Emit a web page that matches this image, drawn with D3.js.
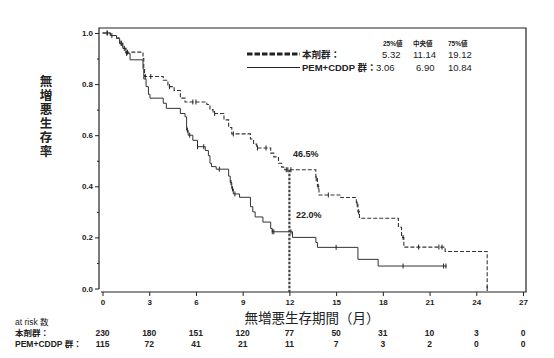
<!DOCTYPE html>
<html><head><meta charset="utf-8">
<script src="https://cdn.jsdelivr.net/npm/d3@7"></script>
<style>
body{margin:0;background:#fff;}
text{font-family:"Liberation Sans","Noto Sans CJK JP",sans-serif;fill:#222;}
</style></head><body>
<script>
// ---- data ----
const xTicks = [0,3,6,9,12,15,18,21,24,27];
const yTicks = [0,0.2,0.4,0.6,0.8,1.0];
const drugTimes = [0,0.5,0.9,1.1,1.3,1.5,2.6,2.65,2.7,3.9,4.2,4.6,5.0,5.3,6.7,6.9,7.1,7.8,8.1,8.3,9.5,9.7,9.9,10.8,11.0,11.3,11.5,11.7,13.7,13.8,13.9,15.3,16.3,16.4,16.5,19.0,19.2,19.35,22.0,24.7];
const drugSurv  = [1.0,0.99,0.98,0.96,0.94,0.925,0.90,0.86,0.83,0.815,0.79,0.775,0.745,0.73,0.72,0.70,0.685,0.66,0.63,0.605,0.585,0.565,0.55,0.53,0.515,0.49,0.475,0.465,0.43,0.40,0.366,0.356,0.33,0.30,0.275,0.24,0.20,0.162,0.145,0.0];
const drugCens  = [0.3,0.6,1.2,1.4,1.6,2.75,3.1,4.3,5.8,6.0,7.2,8.4,9.95,10.5,11.8,11.9,12.1,13.72,13.85,14.5,16.35,16.45,19.3,20.3,21.6,21.8,24.7];
const pemTimes = [0,0.5,0.9,1.1,1.3,1.5,1.77,2.6,2.65,2.8,2.95,3.05,3.9,4.1,5.0,5.3,5.4,5.5,5.8,6.1,6.6,6.8,6.9,7.0,7.3,8.1,8.2,8.3,8.4,8.8,9.5,9.65,9.8,10.3,10.8,10.9,12.2,13.7,13.8,16.4,17.7,22.1];
const pemSurv  = [1.0,0.99,0.98,0.96,0.94,0.92,0.895,0.86,0.82,0.79,0.76,0.745,0.725,0.705,0.685,0.672,0.62,0.60,0.58,0.555,0.54,0.52,0.49,0.477,0.467,0.44,0.415,0.39,0.37,0.357,0.32,0.30,0.28,0.26,0.235,0.222,0.20,0.18,0.161,0.114,0.088,0.088];
const pemCens  = [0.3,1.2,1.55,5.45,5.6,6.1,6.5,7.5,8.25,8.35,8.5,10.9,11.0,12.1,15.0,19.3,21.9,22.05];
const groupNames = ["本剤群：","PEM+CDDP 群："];
const quantHeaders = ["25%値","中央値","75%値"];
const quantDrug = ["5.32","11.14","19.12"];
const quantPem  = ["3.06","6.90","10.84"];
const riskDrug = [230,180,151,120,77,50,31,10,3,0];
const riskPem  = [115,72,41,21,11,7,3,2,0,0];
const landmark = {t:12, drug:"46.5%", pem:"22.0%"};

// ---- layout ----
const W=554,H=358;
const svg=d3.select("body").append("svg").attr("width",W).attr("height",H);
const x=d3.scaleLinear().domain([0,27]).range([102.5,523]);
const y=d3.scaleLinear().domain([0,1]).range([288.5,33]);
const col="#222";

// frame
svg.append("path").attr("d","M99,289 V28 H526 V292 H101").attr("fill","none").attr("stroke",col).attr("stroke-width",1.2);

// y axis
const ya=svg.append("g").attr("transform","translate(99,0)")
  .call(d3.axisLeft(y).tickValues(yTicks).tickFormat(d3.format(".1f")).tickSize(4).tickPadding(2));
ya.select(".domain").remove();
ya.selectAll("text").style("font-size","8px").style("font-weight","bold").attr("fill","#222");
ya.selectAll("line").attr("stroke",col);
svg.append("g").attr("transform","translate(99,0)")
  .call(d3.axisLeft(y).tickValues([0.1,0.3,0.5,0.7,0.9]).tickFormat("").tickSize(2))
  .call(g=>g.select(".domain").remove()).selectAll("line").attr("stroke",col);

// x axis
const xa=svg.append("g").attr("transform","translate(0,292)")
  .call(d3.axisBottom(x).tickValues(xTicks).tickSize(4).tickPadding(3));
xa.select(".domain").remove();
xa.selectAll("text").style("font-size","8px").style("font-weight","bold").attr("fill","#222");
xa.selectAll("line").attr("stroke",col);

// y label (vertical stacked)
const ylab="無増悪生存率";
ylab.split("").forEach((c,i)=>{
  svg.append("text").attr("x",46).attr("y",82+i*14).attr("text-anchor","middle")
    .attr("dominant-baseline","central").style("font-size","12.5px").style("font-weight","bold").text(c);
});
svg.append("text").attr("x",312).attr("y",318).attr("text-anchor","middle").attr("dominant-baseline","central")
  .style("font-size","13.5px").text("無増悪生存期間（月）");

// step lines
function stepPath(ts,ss){
  const pts=ts.map((t,i)=>[x(t),y(ss[i])]);
  return d3.line().curve(d3.curveStepAfter)(pts);
}
function survAt(ts,ss,t){let v=ss[0];for(let i=0;i<ts.length;i++){if(ts[i]<=t)v=ss[i];}return v;}

// landmark vertical line
svg.append("line").attr("x1",x(landmark.t)).attr("x2",x(landmark.t))
  .attr("y1",y(survAt(drugTimes,drugSurv,landmark.t))).attr("y2",292)
  .attr("stroke","#444").attr("stroke-width",2.2).attr("stroke-dasharray","2.5,1.5");

svg.append("path").attr("d",stepPath(pemTimes,pemSurv)).attr("fill","none").attr("stroke","#333").attr("stroke-width",1);
svg.append("path").attr("d",stepPath(drugTimes,drugSurv)).attr("fill","none").attr("stroke","#333").attr("stroke-width",1.1).attr("stroke-dasharray","4,2");

// censor marks
function cens(ts,ss,cs){
  svg.append("g").selectAll("line").data(cs).join("line")
    .attr("x1",d=>x(d)).attr("x2",d=>x(d))
    .attr("y1",d=>y(survAt(ts,ss,d))-2.5).attr("y2",d=>y(survAt(ts,ss,d))+2.5)
    .attr("stroke","#222").attr("stroke-width",1);
}
cens(drugTimes,drugSurv,drugCens);
cens(pemTimes,pemSurv,pemCens);

// landmark labels
svg.append("text").attr("x",293).attr("y",154).attr("dominant-baseline","central").style("font-size","9px").style("font-weight","bold").text(landmark.drug);
svg.append("text").attr("x",296).attr("y",215).attr("dominant-baseline","central").style("font-size","9px").style("font-weight","bold").text(landmark.pem);

// legend
svg.append("line").attr("x1",247).attr("x2",300).attr("y1",54).attr("y2",54).attr("stroke","#222").attr("stroke-width",3).attr("stroke-dasharray","5.5,2");
svg.append("line").attr("x1",247).attr("x2",300).attr("y1",67.5).attr("y2",67.5).attr("stroke","#222").attr("stroke-width",1.2);
svg.append("text").attr("x",302).attr("y",54).attr("dominant-baseline","central").style("font-size","9.5px").style("font-weight","bold").text(groupNames[0]);
svg.append("text").attr("x",302).attr("y",67.5).attr("dominant-baseline","central").style("font-size","9.5px").style("font-weight","bold").text(groupNames[1]);
const hx=[383,413,448];
quantHeaders.forEach((h,i)=>svg.append("text").attr("x",hx[i]).attr("y",43).attr("dominant-baseline","central").style("font-size","6.5px").style("font-weight","bold").text(h));
const dx=[382,413,448], px=[376,416,448];
quantDrug.forEach((v,i)=>svg.append("text").attr("x",dx[i]).attr("y",54).attr("dominant-baseline","central").style("font-size","9.5px").text(v));
quantPem.forEach((v,i)=>svg.append("text").attr("x",px[i]).attr("y",67.5).attr("dominant-baseline","central").style("font-size","9.5px").text(v));

// at risk table
svg.append("text").attr("x",15).attr("y",322).attr("dominant-baseline","central").style("font-size","8.5px").text("at risk 数");
svg.append("text").attr("x",15).attr("y",333).attr("dominant-baseline","central").style("font-size","8.5px").style("font-weight","bold").text(groupNames[0]);
svg.append("text").attr("x",15).attr("y",344).attr("dominant-baseline","central").style("font-size","8.5px").style("font-weight","bold").text(groupNames[1]);
riskDrug.forEach((v,i)=>svg.append("text").attr("x",x(xTicks[i])).attr("y",333).attr("text-anchor","middle").attr("dominant-baseline","central").style("font-size","8.5px").style("font-weight","bold").text(v));
riskPem.forEach((v,i)=>svg.append("text").attr("x",x(xTicks[i])).attr("y",344).attr("text-anchor","middle").attr("dominant-baseline","central").style("font-size","8.5px").style("font-weight","bold").text(v));
</script>
</body></html>
